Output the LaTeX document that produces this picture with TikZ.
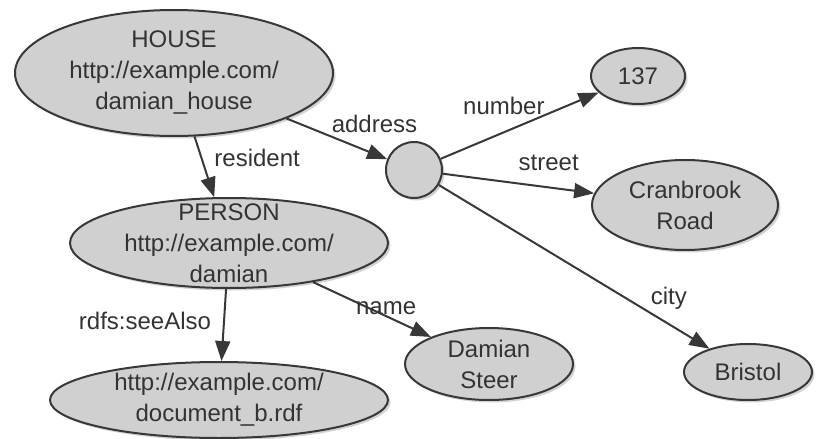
\documentclass[tikz,border=0pt]{standalone}
\usepackage{fontspec}
\setmainfont{Liberation Sans}
\usetikzlibrary{shapes.geometric,arrows.meta,shadows}

\definecolor{nodefill}{HTML}{D0D0D0}
\definecolor{nodeline}{HTML}{383838}
\definecolor{labeltext}{HTML}{333333}

\tikzset{
  res/.style={ellipse, draw=nodeline, fill=nodefill, line width=2pt, inner sep=0pt,
    align=center, text=labeltext, font=\fontsize{24}{31}\selectfont,
    drop shadow={shadow xshift=2.5pt, shadow yshift=-2.5pt, opacity=0.35}},
  prop/.style={draw=nodeline, line width=2pt, -{Triangle[length=20pt,width=15pt]}},
  plabel/.style={text=labeltext, font=\fontsize{24}{31}\selectfont, inner sep=2pt}
}

\begin{document}
\begin{tikzpicture}[x=1pt, y=-1pt, line join=round]
			% Fix the page to the picture size
			\useasboundingbox (0,0) rectangle (828,439);
			
			% Resources
			\node[res, minimum width=318pt, minimum height=126pt] (house) at (174,73) {HOUSE\\http://example.com/\\damian\_house};
			\node[res, minimum width=318pt, minimum height=90pt, inner ysep=-11pt] (person) at (229,243) {PERSON\\http://example.com/\\damian};
			\node[res, minimum width=338pt, minimum height=76pt] (doc) at (219,400) {http://example.com/\\document\_b.rdf};
			
			% Blank node for the address and its values
			\node[res, circle, minimum size=56pt] (addr) at (414,170) {};
			\node[res, minimum width=94pt, minimum height=56pt] (num) at (638,76) {137};
			\node[res, minimum width=186pt, minimum height=90pt] (street) at (685,205) {Cranbrook\\Road};
			\node[res, minimum width=128pt, minimum height=56pt] (city) at (748,372) {Bristol};
			\node[res, minimum width=168pt, minimum height=72pt] (name) at (489,364) {Damian\\Steer};
			
			% Properties
			\draw[prop] (house) -- node[plabel, pos=0.35, right=10pt] {resident} (person);
			\draw[prop] (house) -- node[plabel, pos=0.42, anchor=south west] {address} (addr);
			\draw[prop] (addr) -- node[plabel, pos=0.4, above=15pt] {number} (num);
			\draw[prop] (addr) -- node[plabel, pos=0.7, above=14pt] {street} (street);
			\draw[prop] (addr) -- node[plabel, pos=0.85, above=12pt] {city} (city);
			\draw[prop] (person) -- node[plabel, pos=0.62, above=-2pt] {name} (name);
			\draw[prop] (person) -- node[plabel, pos=0.45, left=10pt] {rdfs:seeAlso} (doc);
			
\end{tikzpicture}
\end{document}
